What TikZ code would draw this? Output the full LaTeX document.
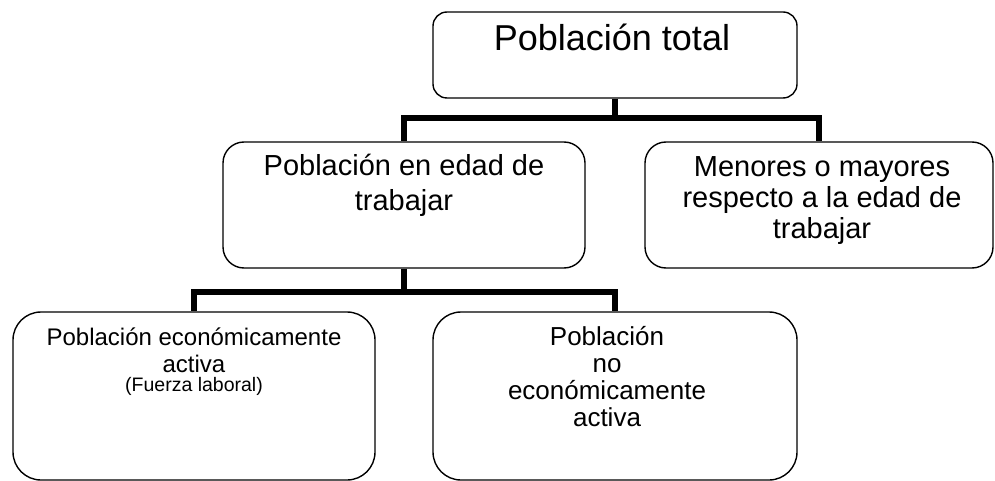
\documentclass[tikz,border=0pt]{standalone}
\usepackage{fontspec}
\setmainfont{Liberation Sans}
\usetikzlibrary{positioning}

\tikzset{
  caja/.style={draw, line width=1.4pt, rounded corners=#1, inner sep=0pt},
  conector/.style={line width=6pt},
  texto/.style={anchor=base, align=center, inner sep=0pt}
}

\begin{document}
\begin{tikzpicture}[x=1pt, y=-1pt]
  \useasboundingbox (0,0) rectangle (995,481);

  % cajas
  \node[caja=14pt, minimum width=364pt, minimum height=86pt]  at (615,55)  (total) {};
  \node[caja=21pt, minimum width=362pt, minimum height=126pt] at (404,205) (pet) {};
  \node[caja=21pt, minimum width=348pt, minimum height=126pt] at (819,205) (menores) {};
  \node[caja=28pt, minimum width=362pt, minimum height=168pt] at (194,396) (pea) {};
  \node[caja=28pt, minimum width=364pt, minimum height=168pt] at (615,396) (pnea) {};

  % textos (base = ultima linea)
  \node[texto, font=\fontsize{36}{40}\selectfont] at (612,51) (total-txt) {Población total};
  \node[texto, font=\fontsize{29}{35}\selectfont] at (404,210) (pet-txt) {Población en edad de\\trabajar};
  \node[texto, font=\fontsize{29}{31}\selectfont] at (822,238) (menores-txt) {Menores o mayores\\respecto a la edad de\\trabajar};
  \node[texto, font=\fontsize{24}{27}\selectfont] at (194,372) (pea-txt) {Población económicamente\\activa};
  \node[texto, font=\fontsize{19.5}{22}\selectfont] at (194,391) (pea-sub) {(Fuerza laboral)};
  \node[texto, font=\fontsize{26}{27}\selectfont] at (607,426) (pnea-txt) {Población\\no\\económicamente\\activa};

  % conectores
  \coordinate (nodo1) at (615,118);
  \coordinate (nodo2) at (404,292);
  \draw[conector] (total.south) -- (nodo1) -| (pet.north);
  \draw[conector] (nodo1) -| (menores.north);
  \draw[conector] (pet.south) -- (nodo2) -| (pea.north);
  \draw[conector] (nodo2) -| (pnea.north);
\end{tikzpicture}
\end{document}
